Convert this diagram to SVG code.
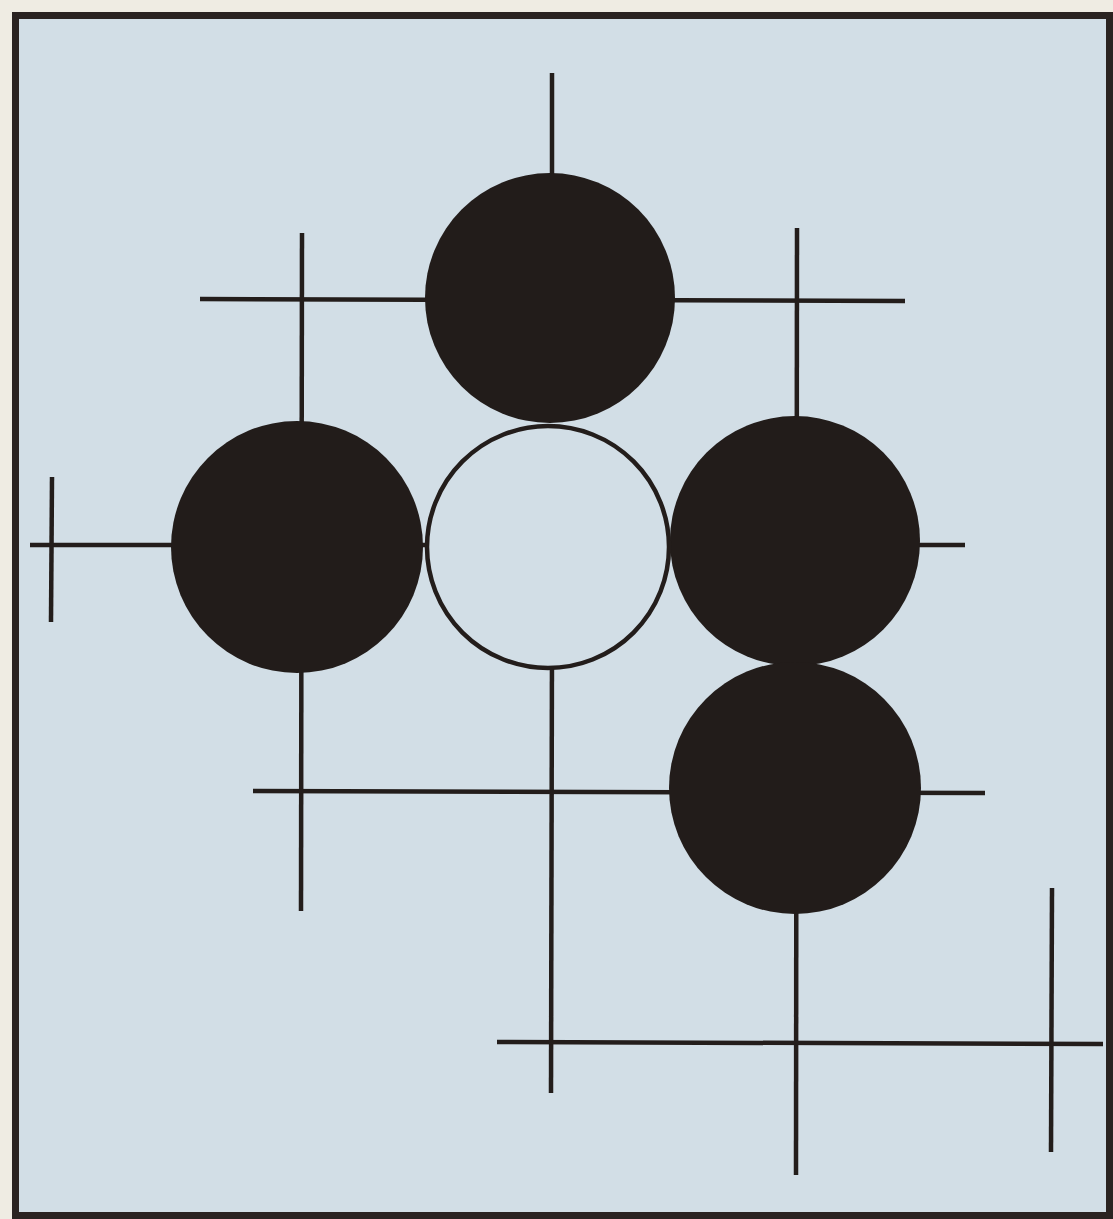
<svg xmlns="http://www.w3.org/2000/svg" width="1113" height="1219" viewBox="0 0 1113 1219">
<style>
.ln{stroke:#231d1b;stroke-width:4.5;stroke-linecap:butt;fill:none}
.blk{fill:#221c1a}
.wht{fill:#d2dee6;stroke:#231d1b;stroke-width:4.5}
</style>
<rect x="0" y="0" width="1113" height="1219" fill="#efece3"/>
<rect x="15.5" y="15.5" width="1094" height="1200" fill="#d2dee6" stroke="#2a2321" stroke-width="7"/>
<g id="grid">
<line class="ln" x1="552" y1="73" x2="552" y2="200"/>
<line class="ln" x1="552" y1="640" x2="551" y2="1093"/>
<line class="ln" x1="200" y1="299" x2="905" y2="301"/>
<line class="ln" x1="302" y1="233" x2="301" y2="911"/>
<line class="ln" x1="797" y1="228" x2="796" y2="1175"/>
<line class="ln" x1="30" y1="545" x2="965" y2="545"/>
<line class="ln" x1="52" y1="477" x2="51" y2="622"/>
<line class="ln" x1="253" y1="791" x2="985" y2="793"/>
<line class="ln" x1="497" y1="1042" x2="1103" y2="1044"/>
<line class="ln" x1="1052" y1="888" x2="1051" y2="1152"/>
</g>
<g id="stones">
<circle id="black-top" class="blk" cx="550" cy="298" r="125"/>
<circle id="black-left" class="blk" cx="297" cy="547" r="126"/>
<circle id="black-right" class="blk" cx="795" cy="541" r="125"/>
<circle id="black-bottom-right" class="blk" cx="795" cy="788" r="126"/>
<circle id="white-center" class="wht" cx="548" cy="547" r="121"/>
</g>
</svg>
